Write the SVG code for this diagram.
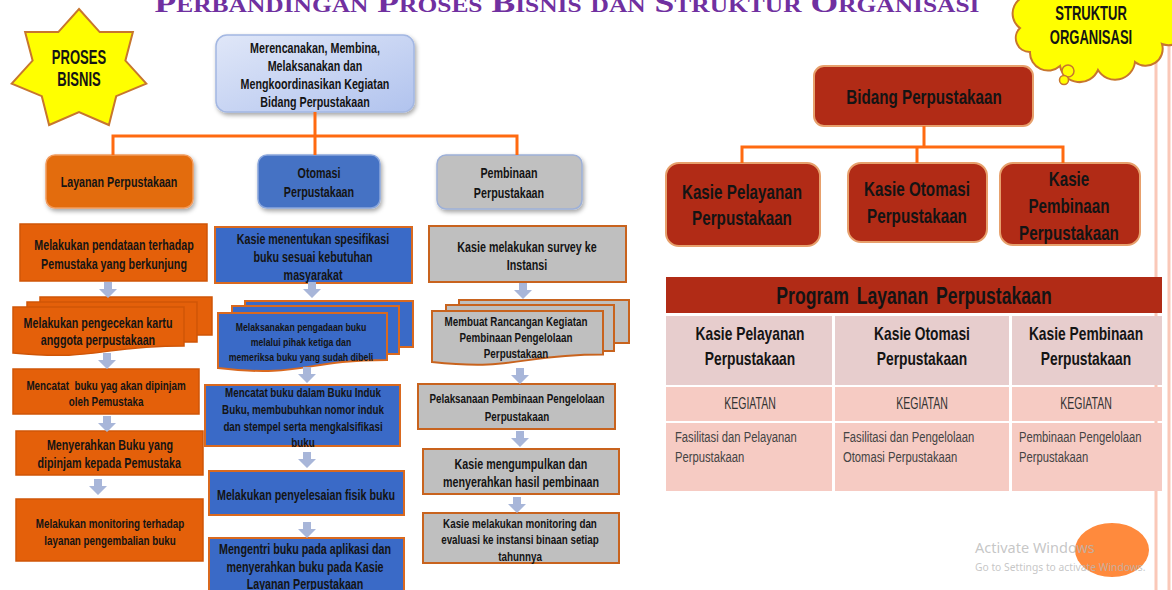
<svg xmlns="http://www.w3.org/2000/svg" width="1172" height="590" viewBox="0 0 1172 590">
  <defs>
    <style>
      .tx{font-family:"Liberation Sans",Arial,sans-serif;font-weight:bold;text-anchor:middle;dominant-baseline:central;fill:#141414;transform:scaleX(.75);transform-box:fill-box;transform-origin:50% 50%}
      .cap{transform:scaleX(.62)}
      .reg{font-weight:normal}
      .lt{text-anchor:start;transform-origin:0 50%}
      .f11{font-size:11.6px}
      .f13{font-size:13.1px}
      .f14{font-size:14.3px}
      .f18{font-size:18.4px}
      .f20{font-size:20.3px}
      .orange{fill:#E4600A;stroke:#CF5507;stroke-width:1.5}
      .blue{fill:#3A6AC7;stroke:#D9691F;stroke-width:2}
      .gray{fill:#BFBFBF;stroke:#C8631E;stroke-width:2}
      .red{fill:#B12B16;stroke:#E7A06C;stroke-width:2}
      .wire{fill:none;stroke:#FF6A10;stroke-width:3}
      .arr{fill:#A8B6D9}
      .edge{fill:none;stroke:#FAC8B8;stroke-width:3}
    </style>
    <filter id="shadow" x="-10%" y="-10%" width="130%" height="140%">
      <feDropShadow dx="1.5" dy="2.5" stdDeviation="2" flood-color="#000" flood-opacity="0.35"/>
    </filter>
    <linearGradient id="topGrad" x1="0" y1="0" x2="1" y2="1">
      <stop offset="0" stop-color="#E0E7F8"/>
      <stop offset="1" stop-color="#B1C3EE"/>
    </linearGradient>
    <!-- block arrow pointing down, origin at top centre -->
    <path id="dn" d="M-4,0 H4 V7 H9 L0,16 L-9,7 H-4 Z"/>
  </defs>

  <rect width="1172" height="590" fill="#FFFFFF"/>

  <!-- page edge lines -->
  <line class="edge" x1="1156" y1="30" x2="1156" y2="590"/>
  <line class="edge" x1="1169" y1="30" x2="1169" y2="590"/>

  <!-- title -->
  <text x="567" y="12" textLength="825" lengthAdjust="spacingAndGlyphs" style="font-family:'Liberation Serif',serif;font-weight:bold;font-variant:small-caps;font-size:28px;fill:#7030A0;text-anchor:middle">Perbandingan Proses Bisnis dan Struktur Organisasi</text>

  <!-- badge: proses bisnis -->
  <g id="badge-proses">
    <path d="M79,9 L99.7,32.1 L132.9,32 L125.4,60.6 L146.3,83.6 L116.2,96.2 L108.9,125 L79,112.1 L49.1,125 L41.8,96.2 L11.7,83.6 L32.6,60.6 L25.1,32 L58.3,32.1 Z" fill="#FFFF00" stroke="#C7762E" stroke-width="2"/>
    <text class="tx cap" x="79" y="57" style="font-size:21px">PROSES</text>
    <text class="tx cap" x="79" y="79" style="font-size:21px">BISNIS</text>
  </g>

  <!-- badge: struktur organisasi -->
  <g id="badge-struktur">
    <path d="M1035,-4 A18 18 0 0 0 1020,28 A14 14 0 0 0 1030,52 A18 18 0 0 0 1060,66 A20 20 0 0 0 1098,70 A20 20 0 0 0 1135,62 A17 17 0 0 0 1162,44 A18 18 0 0 0 1185,20 L1185,-4 Z" fill="#FFFF00" stroke="#C7762E" stroke-width="2"/>
    <circle cx="1068" cy="71" r="6" fill="#FFFF00" stroke="#C7762E" stroke-width="1.5"/>
    <circle cx="1064" cy="80" r="4.5" fill="#FFFF00" stroke="#C7762E" stroke-width="1.5"/>
    <text class="tx cap" x="1091" y="13" style="font-size:21px">STRUKTUR</text>
    <text class="tx cap" x="1091" y="37" style="font-size:21px">ORGANISASI</text>
  </g>

  <!-- process tree: root -->
  <g id="root">
    <rect x="216" y="35" width="198" height="77" rx="11" fill="url(#topGrad)" stroke="#A3B7E2" stroke-width="1.5" filter="url(#shadow)"/>
    <text class="tx f14" x="315" y="48">Merencanakan, Membina,</text>
    <text class="tx f14" x="315" y="66">Melaksanakan dan</text>
    <text class="tx f14" x="315" y="84">Mengkoordinasikan Kegiatan</text>
    <text class="tx f14" x="315" y="102">Bidang Perpustakaan</text>
  </g>

  <g id="layanan">
    <rect x="46" y="155" width="147" height="53" rx="9" fill="#E36C0A" stroke="#F19A5C" stroke-width="1.5" filter="url(#shadow)"/>
    <text class="tx f14" x="119" y="182">Layanan Perpustakaan</text>
  </g>
  <g id="otomasi">
    <rect x="258" y="155" width="122" height="53" rx="9" fill="#4472C4" stroke="#8AA6DC" stroke-width="1.5" filter="url(#shadow)"/>
    <text class="tx f14" x="319" y="173">Otomasi</text>
    <text class="tx f14" x="319" y="192">Perpustakaan</text>
  </g>
  <g id="pembinaan">
    <rect x="437" y="155" width="145" height="54" rx="9" fill="#C0C0C0" stroke="#9DB0D8" stroke-width="1.5" filter="url(#shadow)"/>
    <text class="tx f14" x="509" y="173">Pembinaan</text>
    <text class="tx f14" x="509" y="193">Perpustakaan</text>
  </g>

  <!-- layanan steps -->
  <g id="lay-1">
    <rect class="orange" x="20" y="224" width="187" height="57"/>
    <text class="tx f14" x="114" y="245">Melakukan pendataan terhadap</text>
    <text class="tx f14" x="114" y="264">Pemustaka yang berkunjung</text>
  </g>
  <g id="lay-2">
    <rect class="orange" x="40" y="297" width="172" height="38"/>
    <rect class="orange" x="27" y="302" width="170" height="40"/>
    <path class="orange" d="M13,307 H184 V346 C98.5,346 98.5,361 13,353 Z"/>
    <text class="tx f14" x="98" y="323">Melakukan pengecekan kartu</text>
    <text class="tx f14" x="98" y="340">anggota perpustakaan</text>
  </g>
  <g id="lay-3">
    <rect class="orange" x="13" y="369" width="186" height="45"/>
    <text class="tx f13" x="106" y="385" xml:space="preserve">Mencatat  buku yag akan dipinjam</text>
    <text class="tx f13" x="106" y="401">oleh Pemustaka</text>
  </g>
  <g id="lay-4">
    <rect class="orange" x="16" y="431" width="187" height="44"/>
    <text class="tx f14" x="110" y="445">Menyerahkan Buku yang</text>
    <text class="tx f14" x="109" y="463">dipinjam kepada Pemustaka</text>
  </g>
  <g id="lay-5">
    <rect class="orange" x="16" y="499" width="187" height="62"/>
    <text class="tx f13" x="110" y="523">Melakukan monitoring terhadap</text>
    <text class="tx f13" x="110" y="540">layanan pengembalian buku</text>
  </g>

  <!-- otomasi steps -->
  <g id="oto-1">
    <rect class="blue" x="215" y="227" width="197" height="56"/>
    <text class="tx f14" x="313" y="239">Kasie menentukan spesifikasi</text>
    <text class="tx f14" x="313" y="257">buku sesuai kebutuhan</text>
    <text class="tx f14" x="313" y="275">masyarakat</text>
  </g>
  <g id="oto-2">
    <rect class="blue" x="245" y="301" width="168" height="46"/>
    <rect class="blue" x="232" y="306" width="167" height="48"/>
    <path class="blue" d="M218,313 H387 V360 C302.5,360 302.5,378 218,368 Z"/>
    <text class="tx f11" x="301" y="327">Melaksanakan pengadaan buku</text>
    <text class="tx f11" x="301" y="342">melalui pihak ketiga dan</text>
    <text class="tx f11" x="301" y="357">memeriksa buku yang sudah dibeli</text>
  </g>
  <g id="oto-3">
    <rect class="blue" x="205" y="385" width="195" height="61"/>
    <text class="tx f13" x="303" y="392">Mencatat buku dalam Buku Induk</text>
    <text class="tx f13" x="303" y="409">Buku, membubuhkan nomor induk</text>
    <text class="tx f13" x="303" y="426">dan stempel serta mengkalsifikasi</text>
    <text class="tx f13" x="303" y="442">buku</text>
  </g>
  <g id="oto-4">
    <rect class="blue" x="209" y="471" width="195" height="44"/>
    <text class="tx f14" x="306" y="495">Melakukan penyelesaian fisik buku</text>
  </g>
  <g id="oto-5">
    <rect class="blue" x="209" y="538" width="195" height="60"/>
    <text class="tx f14" x="305" y="549">Mengentri buku pada aplikasi dan</text>
    <text class="tx f14" x="305" y="567">menyerahkan buku pada Kasie</text>
    <text class="tx f14" x="305" y="584">Layanan Perpustakaan</text>
  </g>

  <!-- pembinaan steps -->
  <g id="pem-1">
    <rect class="gray" x="429" y="226" width="197" height="56"/>
    <text class="tx f14" x="527" y="247">Kasie melakukan survey ke</text>
    <text class="tx f14" x="527" y="265">Instansi</text>
  </g>
  <g id="pem-2">
    <rect class="gray" x="459" y="300" width="170" height="43"/>
    <rect class="gray" x="446" y="305" width="168" height="46"/>
    <path class="gray" d="M432,311 H603 V354.5 C517.5,354.5 517.5,371 432,362 Z"/>
    <text class="tx f13" x="516" y="321">Membuat Rancangan Kegiatan</text>
    <text class="tx f13" x="516" y="337">Pembinaan Pengelolaan</text>
    <text class="tx f13" x="516" y="353">Perpustakaan</text>
  </g>
  <g id="pem-3">
    <rect class="gray" x="418" y="384" width="197" height="45"/>
    <text class="tx f13" x="517" y="398">Pelaksanaan Pembinaan Pengelolaan</text>
    <text class="tx f13" x="517" y="416">Perpustakaan</text>
  </g>
  <g id="pem-4">
    <rect class="gray" x="423" y="449" width="196" height="45"/>
    <text class="tx f14" x="521" y="464">Kasie mengumpulkan dan</text>
    <text class="tx f14" x="521" y="482">menyerahkan hasil pembinaan</text>
  </g>
  <g id="pem-5">
    <rect class="gray" x="423" y="513" width="196" height="50"/>
    <text class="tx f13" x="520" y="523">Kasie melakukan monitoring dan</text>
    <text class="tx f13" x="520" y="539">evaluasi ke instansi binaan setiap</text>
    <text class="tx f13" x="520" y="556">tahunnya</text>
  </g>

  <!-- organisation chart -->
  <g id="bidang">
    <rect class="red" x="814" y="66" width="219" height="60" rx="10"/>
    <text class="tx f20" x="924" y="97">Bidang Perpustakaan</text>
  </g>
  <g id="kasie-pelayanan">
    <rect class="red" x="666" y="163" width="154" height="83" rx="13"/>
    <text class="tx f20" x="742" y="192">Kasie Pelayanan</text>
    <text class="tx f20" x="742" y="218">Perpustakaan</text>
  </g>
  <g id="kasie-otomasi">
    <rect class="red" x="848" y="163" width="139" height="79" rx="13"/>
    <text class="tx f20" x="917" y="189">Kasie Otomasi</text>
    <text class="tx f20" x="917" y="216">Perpustakaan</text>
  </g>
  <g id="kasie-pembinaan">
    <rect class="red" x="1000" y="163" width="140" height="82" rx="13"/>
    <text class="tx f20" x="1069" y="179">Kasie</text>
    <text class="tx f20" x="1069" y="206">Pembinaan</text>
    <text class="tx f20" x="1069" y="233">Perpustakaan</text>
  </g>

  <!-- programme table -->
  <g id="program-table">
    <rect x="666" y="277" width="496" height="36" fill="#B12B16"/>
    <text class="tx" x="914" y="296" style="font-size:23.5px" word-spacing="4">Program Layanan Perpustakaan</text>
    <g fill="#E7CDCD">
      <rect x="666" y="316" width="166" height="69"/>
      <rect x="835" y="316" width="174" height="69"/>
      <rect x="1012" y="316" width="150" height="69"/>
    </g>
    <g fill="#F6CBC3">
      <rect x="666" y="387" width="166" height="34"/>
      <rect x="835" y="387" width="174" height="34"/>
      <rect x="1012" y="387" width="150" height="34"/>
      <rect x="666" y="423" width="166" height="68"/>
      <rect x="835" y="423" width="174" height="68"/>
      <rect x="1012" y="423" width="150" height="68"/>
    </g>
    <text class="tx f18" x="750" y="333">Kasie Pelayanan</text>
    <text class="tx f18" x="750" y="358">Perpustakaan</text>
    <text class="tx f18" x="922" y="333">Kasie Otomasi</text>
    <text class="tx f18" x="922" y="358">Perpustakaan</text>
    <text class="tx f18" x="1086" y="333">Kasie Pembinaan</text>
    <text class="tx f18" x="1086" y="358">Perpustakaan</text>
    <text class="tx cap reg" x="750" y="403" style="font-size:17px;fill:#333">KEGIATAN</text>
    <text class="tx cap reg" x="922" y="403" style="font-size:17px;fill:#333">KEGIATAN</text>
    <text class="tx cap reg" x="1086" y="403" style="font-size:17px;fill:#333">KEGIATAN</text>
    <text class="tx reg lt" x="675" y="437" style="font-size:15px;fill:#444">Fasilitasi dan Pelayanan</text>
    <text class="tx reg lt" x="675" y="457" style="font-size:15px;fill:#444">Perpustakaan</text>
    <text class="tx reg lt" x="843" y="437" style="font-size:15px;fill:#444">Fasilitasi dan Pengelolaan</text>
    <text class="tx reg lt" x="843" y="457" style="font-size:15px;fill:#444">Otomasi Perpustakaan</text>
    <text class="tx reg lt" x="1019" y="437" style="font-size:15px;fill:#444">Pembinaan Pengelolaan</text>
    <text class="tx reg lt" x="1019" y="457" style="font-size:15px;fill:#444">Perpustakaan</text>
  </g>

  <!-- connectors -->
  <g id="connectors">
    <path class="wire" d="M315,112 V136 M113,155 V136 H517 V155 M315,136 V155"/>
    <path class="wire" d="M924,126 V147 M742,163 V147 H1063 V163 M917,147 V163"/>
    <g class="arr">
      <use href="#dn" x="108" y="282"/>
      <use href="#dn" x="107" y="353"/>
      <use href="#dn" x="107" y="416"/>
      <use href="#dn" x="98" y="479"/>
      <use href="#dn" x="312" y="282"/>
      <use href="#dn" x="307" y="367"/>
      <use href="#dn" x="307" y="452"/>
      <use href="#dn" x="307" y="522"/>
      <use href="#dn" x="523" y="283"/>
      <use href="#dn" x="520" y="368"/>
      <use href="#dn" x="520" y="431"/>
      <use href="#dn" x="517" y="497"/>
    </g>
  </g>

  <!-- orange dot and system watermark -->
  <ellipse cx="1112" cy="550" rx="37" ry="27" fill="#FF8A3D"/>
  <g style="font-family:'Noto Sans','Open Sans',sans-serif;fill:#B8B8B8;fill-opacity:0.8">
    <text x="975" y="553" style="font-size:14.5px">Activate Windows</text>
    <text x="975" y="571" style="font-size:10.3px">Go to Settings to activate Windows.</text>
  </g>
</svg>
